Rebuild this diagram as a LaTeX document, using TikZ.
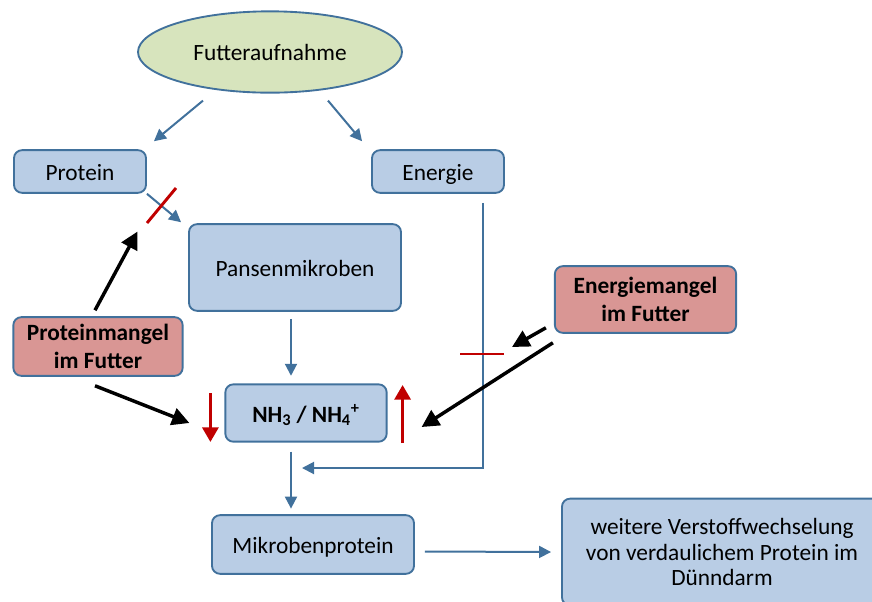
\documentclass[tikz,border=0pt]{standalone}
\usepackage{fontspec}
\setmainfont{Carlito}
\usetikzlibrary{shapes.geometric,arrows.meta,calc}

\definecolor{boxfill}{HTML}{B9CDE5}
\definecolor{boxline}{HTML}{41719C}
\definecolor{lackfill}{HTML}{D99694}
\definecolor{foodfill}{HTML}{D7E4BD}
\definecolor{flowblue}{HTML}{41719C}
\definecolor{cutred}{HTML}{C00000}

\begin{document}
\begin{tikzpicture}[x=0.75pt,y=-0.75pt,
    box/.style={draw=boxline,fill=boxfill,line width=1.4pt,rounded corners=6pt,
        inner sep=0pt,align=center,font=\fontsize{17.5}{19}\selectfont},
    single/.style={text height=13.5pt,text depth=0pt},
    lack/.style={box,fill=lackfill,font=\bfseries\fontsize{17.5}{20.5}\selectfont},
    flow/.style={draw=flowblue,line width=1.5pt,-{Triangle[length=9pt,width=9pt]}},
    push/.style={draw=black,line width=2.6pt,-{Triangle[length=13pt,width=13pt]}},
    cut/.style={draw=cutred,line width=2.2pt},
    trend/.style={draw=cutred,line width=2.4pt,-{Triangle[length=11pt,width=12pt]}}]
    \useasboundingbox (0,0) rectangle (872,601);
    \clip (0,0) rectangle (872,601);

    \node[ellipse,draw=boxline,fill=foodfill,line width=1.4pt,minimum width=198pt,
        minimum height=61pt,font=\fontsize{17.5}{19}\selectfont] (food) at (270,52) {Futteraufnahme};
    \node[box,single,minimum width=99pt,minimum height=32pt] (protein) at (80,171.5) {Protein};
    \node[box,single,minimum width=99pt,minimum height=32pt] (energie) at (438,171.5) {Energie};
    \node[box,single,minimum width=159pt,minimum height=65pt] (pansen) at (295,267.5) {Pansenmikroben};
    \node[box,single,minimum width=121pt,minimum height=43pt,font=\bfseries\fontsize{17.5}{19}\selectfont]
        (nh) at (306,413) {NH\textsubscript{3} / NH\textsubscript{4}\textsuperscript{+}};
    \node[lack,minimum width=127pt,minimum height=44pt] (pmangel) at (98,346.5) {Proteinmangel\\im Futter};
    \node[lack,minimum width=136pt,minimum height=50pt] (emangel) at (645.5,299.5) {Energiemangel\\im Futter};
    \node[box,single,minimum width=151.5pt,minimum height=44pt] (mprot) at (313,544.5) {Mikrobenprotein};
    \node[box,minimum width=240pt,minimum height=80pt] (weiter) at (722,552)
        {weitere Verstoffwechselung\\von verdaulichem Protein im\\Dünndarm};

    % blue flow
    \draw[flow] ($(food.south)+(-67,7)$) -- ($(protein.north east)+(7,-8)$);
    \draw[flow] ($(food.south)+(58,7)$) -- ($(energie.north west)+(-9,-8)$);
    \draw[flow] (protein.south east) -- ($(pansen.north west)+(-7,-1)$);
    \draw[flow] ($(pansen.south)+(-4,7)$) -- ($(pansen.south)+(-4,64)$);
    \draw[flow] ($(nh.south)+(-15,9)$) -- ($(nh.south)+(-15,66)$);
    \coordinate (merge) at (291,468);
    \draw[flow] ($(energie.south)+(45,9)$) |- ($(merge)+(11,0)$);
    \draw[flow] ($(mprot.east)+(10,7)$) -- ($(weiter.west)+(-10,0)$);

    % blocked paths
    \coordinate (pcut) at (161.5,205.5);
    \coordinate (ecut) at (482,354);
    \draw[cut] ($(pcut)+(-14.5,17.5)$) -- ($(pcut)+(14.5,-17.5)$);
    \draw[cut] ($(ecut)+(-22,0)$) -- ($(ecut)+(22,0)$);

    % deficiency effects
    \draw[push] ($(pmangel.north)+(-3,-6)$) -- ($(pcut)+(-24,26)$);
    \draw[push] ($(pmangel.south)+(-3,9)$) -- ($(nh.west)+(-35,10)$);
    \draw[push] ($(emangel.south west)+(-8,-6)$) -- ($(ecut)+(30,-7)$);
    \draw[push] ($(emangel.south west)+(-1,9)$) -- ($(nh.east)+(34,14)$);

    \draw[trend] ($(nh.west)+(-14,-20)$) -- ($(nh.west)+(-14,29)$);
    \draw[trend] ($(nh.east)+(15,30)$) -- ($(nh.east)+(15,-28)$);
\end{tikzpicture}
\end{document}
